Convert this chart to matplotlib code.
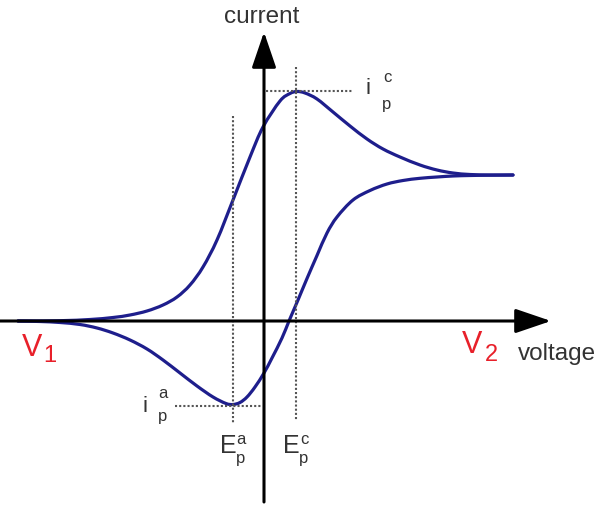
import matplotlib
matplotlib.use("Agg")
import numpy as np
from matplotlib import pyplot as plt
from matplotlib.path import Path
from matplotlib.patches import PathPatch

# cyclic voltammogram, values (voltage, current)
fwd_voltage = [-2.46, -2.04, -1.74, -1.51, -1.34, -1.17, -1.01, -0.87, -0.74, -0.61,
               -0.47, -0.31, -0.14, -0.01, 0.16, 0.26, 0.33, 0.41, 0.53, 0.69,
               0.86, 1.03, 1.19, 1.36, 1.56, 1.73, 1.89, 2.06, 2.26, 2.49]
fwd_current = [0.0, 0.003, 0.015, 0.035, 0.06, 0.10, 0.16, 0.24, 0.36, 0.54,
               0.81, 1.21, 1.64, 1.94, 2.20, 2.275, 2.295, 2.28, 2.22, 2.09,
               1.95, 1.82, 1.72, 1.64, 1.56, 1.51, 1.48, 1.465, 1.46, 1.46]

rev_voltage = [2.49, 2.26, 2.06, 1.89, 1.73, 1.56, 1.39, 1.23, 1.06, 0.89,
               0.73, 0.63, 0.53, 0.43, 0.34, 0.25, 0.18, 0.08, 0.0, -0.09,
               -0.17, -0.24, -0.31, -0.38, -0.51, -0.67, -0.84, -1.01, -1.17, -1.34,
               -1.51, -1.67, -1.84, -2.04, -2.24, -2.46]
rev_current = [1.46, 1.458, 1.455, 1.45, 1.44, 1.427, 1.405, 1.37, 1.305, 1.21,
               1.04, 0.88, 0.655, 0.425, 0.21, 0.0, -0.17, -0.37, -0.52, -0.66,
               -0.76, -0.815, -0.835, -0.825, -0.76, -0.65, -0.52, -0.39, -0.28, -0.19,
               -0.12, -0.07, -0.035, -0.015, -0.005, 0.0]

# peak positions
Ep_c, ip_c = 0.32, 2.30
Ep_a, ip_a = -0.31, -0.845

CURVE = "#1e1e8c"
GUIDE = "#555555"
LABEL = "#333333"
RED = "#e8202a"


def smooth_path(xs, ys):
    """Catmull-Rom curve through every point, as cubic bezier segments."""
    pts = np.column_stack([xs, ys])
    padded = np.vstack([pts[0], pts, pts[-1]])
    verts = [pts[0]]
    codes = [Path.MOVETO]
    for i in range(1, len(padded) - 2):
        p0, p1, p2, p3 = padded[i - 1], padded[i], padded[i + 1], padded[i + 2]
        verts += [p1 + (p2 - p0) / 6, p2 - (p3 - p1) / 6, p2]
        codes += [Path.CURVE4] * 3
    return Path(verts, codes)


def main():
    fig = plt.figure(figsize=(6.0, 5.05), dpi=100)
    ax = fig.add_axes([0, 0, 1, 1])
    ax.set_xlim(-2.64, 3.36)
    ax.set_ylim(-1.84, 3.21)
    ax.axis("off")
    plt.rcParams["font.family"] = ["Liberation Sans", "DejaVu Sans"]

    # axes with arrows
    arrow = dict(arrowstyle="-|>,head_length=2.2,head_width=0.75", lw=2.2,
                 color="black", mutation_scale=10, shrinkA=0, shrinkB=0)
    ax.annotate("", xy=(2.87, 0), xytext=(-2.64, 0), arrowprops=arrow)
    ax.annotate("", xy=(0, 2.89), xytext=(0, -1.81), arrowprops=arrow)

    # dotted guides at the peaks
    dots = dict(color=GUIDE, lw=1.5, ls=(0, (1.0, 1.0)))
    ax.plot([Ep_c, Ep_c], [2.54, -0.99], **dots)
    ax.plot([Ep_a, Ep_a], [2.05, -1.02], **dots)
    ax.plot([0.02, 0.88], [ip_c, ip_c], **dots)
    ax.plot([-0.89, -0.02], [ip_a, ip_a], **dots)

    for xs, ys in ((fwd_voltage, fwd_current), (rev_voltage, rev_current)):
        ax.add_patch(PathPatch(smooth_path(xs, ys), fill=False, edgecolor=CURVE,
                               lw=2.3, capstyle="round"))

    # labels
    ax.text(-0.02, 3.04, "current", ha="center", va="center", fontsize=17.5, color=LABEL)
    ax.text(2.54, -0.33, "voltage", ha="left", va="center", fontsize=17.5, color=LABEL)

    ax.text(-2.32, -0.27, "V", ha="center", va="center", fontsize=22, color=RED)
    ax.text(-2.14, -0.35, "1", ha="center", va="center", fontsize=17, color=RED)
    ax.text(2.08, -0.24, "V", ha="center", va="center", fontsize=22, color=RED)
    ax.text(2.27, -0.34, "2", ha="center", va="center", fontsize=17, color=RED)

    ax.text(1.04, 2.32, "i", ha="center", va="center", fontsize=16, color=LABEL)
    ax.text(1.23, 2.43, "c", ha="center", va="center", fontsize=12, color=LABEL)
    ax.text(1.23, 2.17, "p", ha="center", va="center", fontsize=12, color=LABEL)

    ax.text(-1.19, -0.85, "i", ha="center", va="center", fontsize=16, color=LABEL)
    ax.text(-1.01, -0.72, "a", ha="center", va="center", fontsize=12, color=LABEL)
    ax.text(-1.01, -0.96, "p", ha="center", va="center", fontsize=12, color=LABEL)

    for ep, sup in ((Ep_a, "a"), (Ep_c, "c")):
        ax.text(ep - 0.05, -1.25, "E", ha="center", va="center", fontsize=18, color=LABEL)
        ax.text(ep + 0.08, -1.19, sup, ha="center", va="center", fontsize=12, color=LABEL)
        ax.text(ep + 0.08, -1.37, "p", ha="center", va="center", fontsize=12, color=LABEL)

    fig.savefig("out.png", dpi=100)


if __name__ == "__main__":
    main()
